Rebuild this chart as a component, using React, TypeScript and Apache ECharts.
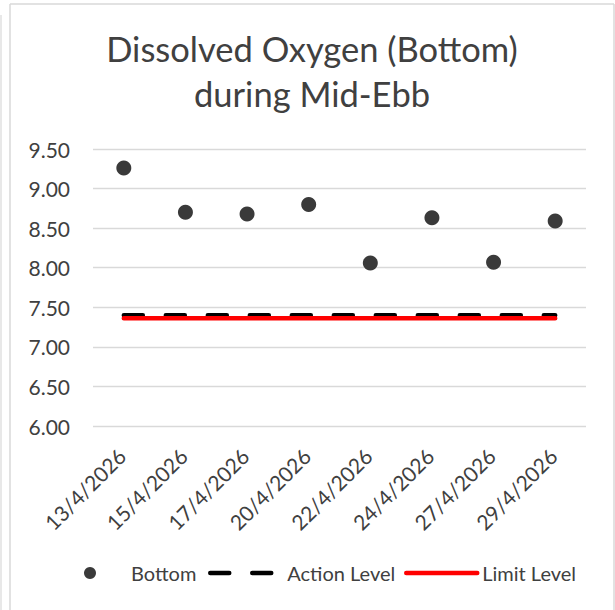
import React, { useEffect, useRef } from "react";
import * as echarts from "echarts";

const categories = ["13/4/2026", "15/4/2026", "17/4/2026", "20/4/2026", "22/4/2026", "24/4/2026", "27/4/2026", "29/4/2026"];
const bottomValues = [9.26, 8.70, 8.68, 8.80, 8.06, 8.63, 8.07, 8.59];
const actionLevel = [7.40, 7.40, 7.40, 7.40, 7.40, 7.40, 7.40, 7.40];
const limitLevel = [7.36, 7.36, 7.36, 7.36, 7.36, 7.36, 7.36, 7.36];
const titleLines = ["Dissolved Oxygen (Bottom)", "during Mid-Ebb"];
const yTickFormat = (v: number) => v.toFixed(2);

const FONT = "Lato";
const TEXT = "#404040";
const BORDER = "#d9d9d9";
const LINE_W = 4.5;
const DASH = [19, 23];

export default function App() {
  const ref = useRef<HTMLDivElement>(null);
  useEffect(() => {
    if (!ref.current) return;
    const chart = echarts.init(ref.current, undefined, { renderer: "svg" });
    const legendText = { fontSize: 20, color: TEXT, fontFamily: FONT };
    chart.setOption({
      animation: false,
      backgroundColor: "#ffffff",
      textStyle: { fontFamily: FONT },
      title: {
        text: titleLines.join("\n"),
        left: 307,
        textAlign: "center",
        top: 21,
        textStyle: { fontFamily: FONT, fontSize: 34.5, fontWeight: "normal", color: TEXT, lineHeight: 45 },
      },
      grid: { left: 93, right: 29, top: 149, bottom: 184, containLabel: false },
      xAxis: {
        type: "category",
        data: categories,
        boundaryGap: true,
        axisLine: { show: false },
        axisTick: { show: false },
        axisLabel: { rotate: 45, fontSize: 21, color: TEXT, fontFamily: FONT, margin: 24, interval: 0, padding: [0, 3, 0, 0] },
      },
      yAxis: {
        type: "value",
        min: 6,
        max: 9.5,
        interval: 0.5,
        axisLine: { show: false },
        axisTick: { show: false },
        splitLine: { lineStyle: { color: BORDER, width: 1.3 } },
        axisLabel: { fontSize: 21, color: TEXT, fontFamily: FONT, margin: 23, formatter: yTickFormat },
      },
      legend: [
        {
          left: 79,
          top: 558,
          itemWidth: 12,
          itemHeight: 12,
          textStyle: { ...legendText, padding: [0, 0, 0, 30] },
          data: ["Bottom"],
        },
        {
          left: 203,
          top: 558,
          itemWidth: 65,
          itemHeight: 12,
          textStyle: { ...legendText, padding: [0, 0, 0, 7] },
          data: [
            {
              name: "Action Level",
              itemStyle: { opacity: 0 },
              lineStyle: { width: LINE_W, type: DASH, cap: "round", color: "#000000" },
            },
          ],
        },
        {
          left: 399,
          top: 558,
          itemWidth: 71,
          itemHeight: 12,
          textStyle: { ...legendText },
          data: [
            {
              name: "Limit Level",
              itemStyle: { opacity: 0 },
              lineStyle: { width: LINE_W, cap: "round", color: "#ff0000" },
            },
          ],
        },
      ],
      series: [
        {
          name: "Bottom",
          type: "scatter",
          data: bottomValues,
          symbol: "circle",
          symbolSize: 15,
          itemStyle: { color: "#3a3a3a", opacity: 1 },
        },
        {
          name: "Action Level",
          type: "line",
          data: actionLevel,
          symbol: "none",
          showSymbol: false,
          lineStyle: { color: "#000000", width: LINE_W, type: DASH, cap: "round" },
          itemStyle: { color: "#000000" },
        },
        {
          name: "Limit Level",
          type: "line",
          data: limitLevel,
          symbol: "none",
          showSymbol: false,
          lineStyle: { color: "#ff0000", width: LINE_W, cap: "round" },
          itemStyle: { color: "#ff0000" },
        },
      ],
      graphic: [
        { type: "line", shape: { x1: 10, y1: 4, x2: 10, y2: 610 }, style: { stroke: BORDER, lineWidth: 1.5 } },
        { type: "line", shape: { x1: 10, y1: 4, x2: 614, y2: 4 }, style: { stroke: BORDER, lineWidth: 1.5 } },
        { type: "line", shape: { x1: 614, y1: 4, x2: 614, y2: 610 }, style: { stroke: BORDER, lineWidth: 1.5 } },
        { type: "line", shape: { x1: 1, y1: 15, x2: 1, y2: 610 }, style: { stroke: BORDER, lineWidth: 1.2 } },
      ],
    });
    return () => chart.dispose();
  }, []);
  return <div ref={ref} style={{ position: "absolute", left: 0, top: 0, width: 615, height: 610 }} />;
}
